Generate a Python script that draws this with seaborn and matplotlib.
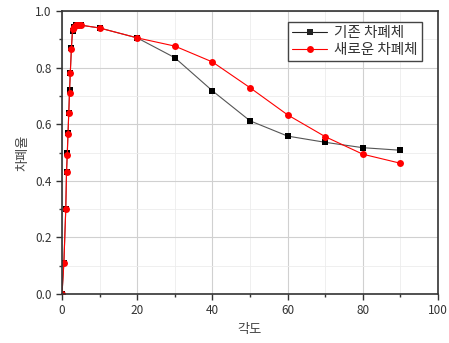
import pandas as pd
import matplotlib
matplotlib.use("Agg")
import matplotlib.pyplot as plt
import seaborn as sns

# angle values (deg)
angle = [0, 0.5, 1, 1.2, 1.4, 1.6, 1.8, 2.0, 2.2, 2.5, 2.8, 3.2, 3.6, 4.0, 4.5, 5,
         10, 20, 30, 40, 50, 60, 70, 80, 90]

# shielding rate for the two shields
old_shield = [0.0, 0.11, 0.30, 0.43, 0.50, 0.57, 0.64, 0.72, 0.78, 0.87, 0.93, 0.945, 0.95, 0.952, 0.952, 0.95,
              0.94, 0.905, 0.835, 0.718, 0.612, 0.558, 0.536, 0.517, 0.508]
new_shield = [0.0, 0.11, 0.30, 0.43, 0.49, 0.565, 0.64, 0.71, 0.78, 0.865, 0.935, 0.945, 0.95, 0.952, 0.952, 0.95,
              0.94, 0.905, 0.876, 0.820, 0.729, 0.633, 0.556, 0.494, 0.462]

names = ["기존 차폐체", "새로운 차폐체"]

df = pd.concat([
    pd.DataFrame({"angle": angle, "rate": old_shield, "shield": names[0]}),
    pd.DataFrame({"angle": angle, "rate": new_shield, "shield": names[1]}),
])

sns.set_style("ticks")
plt.rcParams["font.family"] = ["Noto Sans CJK KR", "DejaVu Sans"]

fig, ax = plt.subplots(figsize=(4.49, 3.43), dpi=100)
fig.subplots_adjust(left=62 / 449, right=438 / 449, top=1 - 11 / 343, bottom=1 - 294 / 343)

# black series first, red on top
sns.lineplot(data=df, x="angle", y="rate", hue="shield", style="shield",
             palette={names[0]: "#222222", names[1]: "red"},
             markers={names[0]: "s", names[1]: "o"}, dashes=False,
             markersize=5, linewidth=0.8, markeredgewidth=0,
             sort=False, ax=ax)
for ln in ax.lines[:1]:
    ln.set_color("#555555")
    ln.set_markerfacecolor("black")

ax.set_xlim(0, 100)
ax.set_ylim(0, 1.0)
ax.set_xticks([0, 20, 40, 60, 80, 100])
ax.set_xticks([10, 30, 50, 70, 90], minor=True)
ax.set_yticks([0.0, 0.2, 0.4, 0.6, 0.8, 1.0])
ax.set_yticks([0.1, 0.3, 0.5, 0.7, 0.9], minor=True)
ax.yaxis.set_major_formatter(matplotlib.ticker.FormatStrFormatter("%.1f"))

ax.grid(which="major", color="#d0d0d0", linewidth=0.8)
ax.grid(which="minor", color="#ececec", linewidth=0.6)
ax.set_axisbelow(True)

ax.tick_params(which="major", length=4, width=1, labelsize=8.5, colors="#333333")
ax.tick_params(which="minor", length=2.5, width=1, colors="#333333")
for s in ax.spines.values():
    s.set_color("#333333")
    s.set_linewidth(1.2)

ax.set_xlabel("각도", fontsize=9.5, color="#444444")
ax.set_ylabel("차폐율", fontsize=9.5, color="#444444")

leg = ax.legend(title=None, loc="upper right", bbox_to_anchor=(0.958, 0.962), fontsize=10.5,
                frameon=True, fancybox=False, edgecolor="#444444", framealpha=1,
                borderpad=0.3, labelspacing=0.2, handlelength=2.4, handletextpad=0.5,
                borderaxespad=0)
for t in leg.get_texts():
    t.set_color("#333333")

plt.savefig("out.png", dpi=100)
